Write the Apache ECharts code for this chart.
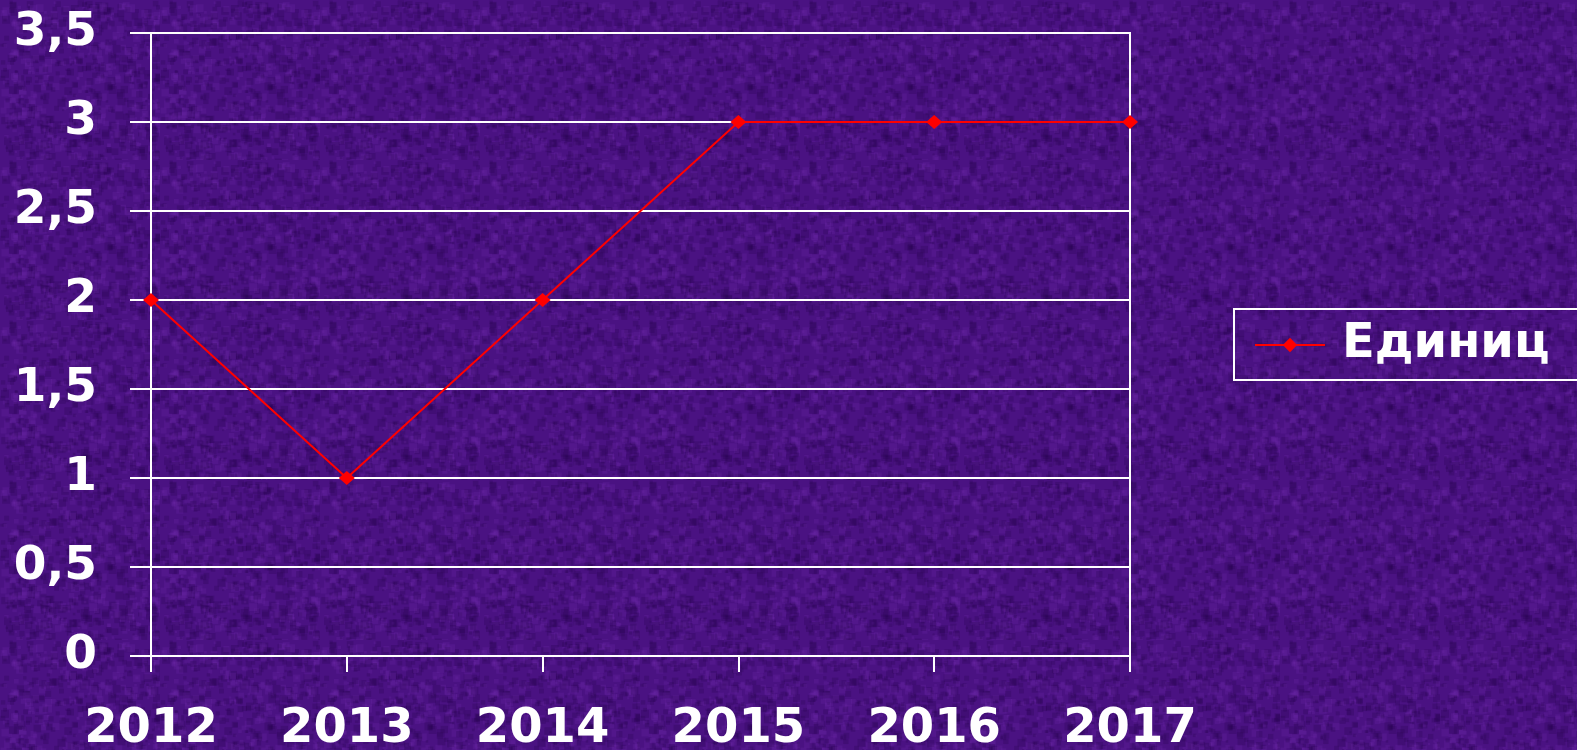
<!DOCTYPE html>
<html>
<head>
<meta charset="utf-8">
<script src="https://cdn.jsdelivr.net/npm/echarts@6/dist/echarts.min.js"></script>
<style>
  html, body { margin: 0; padding: 0; background: #4a1282; }
  #chart { width: 1577px; height: 750px; }
</style>
</head>
<body>
<div id="chart"></div>
<script>
  // данные графика
  const years = ['2012', '2013', '2014', '2015', '2016', '2017'];
  const units = [2, 1, 2, 3, 3, 3];
  const seriesName = 'Единиц';

  const font = '"DejaVu Sans", Verdana, sans-serif';

  // фон "ткань" - простой узор, детерминированный
  function makeTexture() {
    const c = document.createElement('canvas');
    c.width = 160; c.height = 160;
    const ctx = c.getContext('2d');
    ctx.fillStyle = '#4a1282';
    ctx.fillRect(0, 0, 160, 160);
    let s = 12345;
    const rnd = () => { s = (s * 1103515245 + 12345) % 2147483648; return s / 2147483648; };
    for (let i = 0; i < 900; i++) {
      const x = rnd() * 160, y = rnd() * 160, r = 2 + rnd() * 6;
      const dark = rnd() < 0.55;
      ctx.fillStyle = dark ? 'rgba(40,5,80,0.25)' : 'rgba(115,45,175,0.2)';
      ctx.fillRect(x, y, r, r);
    }
    return c;
  }

  const chart = echarts.init(document.getElementById('chart'));

  const option = {
    backgroundColor: { image: makeTexture(), repeat: 'repeat' },
    animation: false,
    grid: {
      left: 151,
      right: 447,
      top: 33,
      bottom: 94,
      outerBoundsMode: 'none',
      show: true,
      borderColor: '#ffffff',
      borderWidth: 2
    },
    legend: {
      left: 1234,
      top: 309,
      orient: 'vertical',
      data: [seriesName],
      itemWidth: 70,
      itemHeight: 18,
      itemGap: 0,
      padding: [12, 200, 11, 20],
      borderColor: '#ffffff',
      borderWidth: 2,
      textStyle: {
        color: '#ffffff',
        fontFamily: font,
        fontWeight: 'bold',
        fontSize: 48,
        padding: [0, 0, 0, 12]
      }
    },
    xAxis: {
      type: 'category',
      data: years,
      boundaryGap: false,
      axisLine: { lineStyle: { color: '#ffffff', width: 2 } },
      axisTick: { show: true, length: 16, lineStyle: { color: '#ffffff', width: 2 } },
      axisLabel: {
        color: '#ffffff',
        fontFamily: font,
        fontWeight: 'bold',
        fontSize: 48,
        margin: 50
      },
      splitLine: { show: false }
    },
    yAxis: {
      type: 'value',
      min: 0,
      max: 3.5,
      interval: 0.5,
      axisLine: { show: true, lineStyle: { color: '#ffffff', width: 2 } },
      axisTick: { show: true, length: 21, lineStyle: { color: '#ffffff', width: 2 } },
      axisLabel: {
        color: '#ffffff',
        fontFamily: font,
        fontWeight: 'bold',
        fontSize: 47,
        margin: 54,
        padding: [6, 0, 0, 0],
        formatter: v => String(v).replace('.', ',')
      },
      splitLine: { show: true, lineStyle: { color: '#ffffff', width: 2 } }
    },
    series: [{
      name: seriesName,
      type: 'line',
      data: units,
      symbol: 'diamond',
      symbolSize: [16, 14],
      lineStyle: { color: '#ff0000', width: 2 },
      itemStyle: { color: '#ff0000' }
    }]
  };

  chart.setOption(option);
</script>
</body>
</html>
